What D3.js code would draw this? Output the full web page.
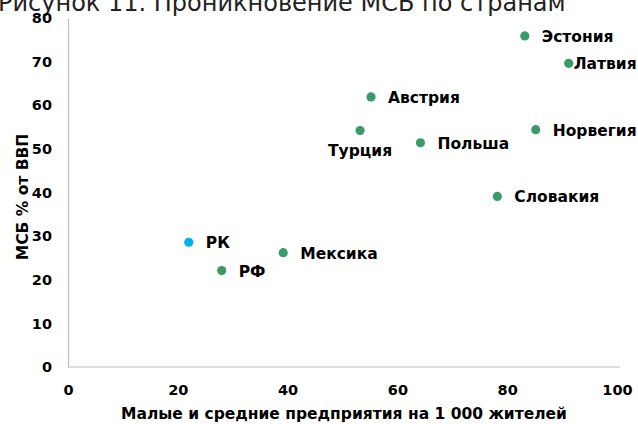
<!DOCTYPE html>
<html>
<head>
<meta charset="utf-8">
<script src="https://cdn.jsdelivr.net/npm/d3@7"></script>
<style>
  body { margin: 0; background: #fff; }
  text { font-family: "DejaVu Sans", Verdana, sans-serif; }
</style>
</head>
<body>
<div id="chart"></div>
<script>
// countries and values
var countries = ["Эстония", "Латвия", "Австрия", "Турция", "Польша", "Норвегия", "Словакия", "РК", "РФ", "Мексика"];
var smePer1000 = [83.2, 91.2, 55.2, 53.2, 64.2, 85.2, 78.2, 22.0, 28.0, 39.2];
var smeGdpShare = [75.9, 69.6, 61.9, 54.2, 51.4, 54.4, 39.1, 28.6, 22.1, 26.2];
var xTicks = [0, 20, 40, 60, 80, 100];
var yTicks = [0, 10, 20, 30, 40, 50, 60, 70, 80];

var W = 638, H = 424;
var svg = d3.select("#chart").append("svg").attr("width", W).attr("height", H);

var x = d3.scaleLinear().domain([0, 100]).range([68, 617]);
var y = d3.scaleLinear().domain([0, 80]).range([367, 18]);

// title, cut at the top like the source image
svg.append("text").attr("x", -2).attr("y", 11).attr("font-size", 24).attr("fill", "#222")
  .text("Рисунок 11. Проникновение МСБ по странам");

// axes: gray lines, no ticks
var xAxis = svg.append("g").attr("transform", "translate(0," + y(0) + ")")
  .call(d3.axisBottom(x).tickValues(xTicks).tickSize(0).tickPadding(18));
var yAxis = svg.append("g").attr("transform", "translate(" + x(0) + ",0)")
  .call(d3.axisLeft(y).tickValues(yTicks).tickSize(0).tickPadding(16));
[xAxis, yAxis].forEach(function(a) {
  a.select(".domain").attr("stroke", "#bfbfbf").attr("stroke-width", 1.2);
  a.selectAll("text").attr("font-size", 14.5).attr("font-weight", "bold").attr("fill", "#000")
    .style("font-family", "'DejaVu Sans', Verdana, sans-serif");
});
xAxis.select(".domain").attr("d", "M" + x(0) + ",0H620");

svg.append("text").attr("x", 344).attr("y", 419).attr("text-anchor", "middle")
  .attr("font-size", 15.5).attr("font-weight", "bold")
  .text("Малые и средние предприятия на 1 000 жителей");
svg.append("text").attr("transform", "translate(28,197) rotate(-90)").attr("text-anchor", "middle")
  .attr("font-size", 15.5).attr("font-weight", "bold")
  .text("МСБ % от ВВП");

var pts = countries.map(function(c, i) { return {name: c, x: smePer1000[i], y: smeGdpShare[i]}; });

svg.selectAll("circle.pt").data(pts).enter().append("circle").attr("class", "pt")
  .attr("cx", function(d) { return x(d.x); })
  .attr("cy", function(d) { return y(d.y); })
  .attr("r", 4.6)
  .attr("fill", function(d) { return d.name == "РК" ? "#00b0f0" : "#3a9b6a"; });

// label placement: right of the dot, Турция goes below
svg.selectAll("text.lbl").data(pts).enter().append("text").attr("class", "lbl")
  .attr("x", function(d) {
    if (d.name == "Турция") return x(d.x);
    if (d.name == "Латвия") return x(d.x) + 5;
    return x(d.x) + 17;
  })
  .attr("y", function(d) { return y(d.y) + (d.name == "Турция" ? 25 : 6); })
  .attr("text-anchor", function(d) { return d.name == "Турция" ? "middle" : "start"; })
  .attr("font-size", 15.5).attr("font-weight", "bold").attr("fill", "#000")
  .text(function(d) { return d.name; });
</script>
</body>
</html>
